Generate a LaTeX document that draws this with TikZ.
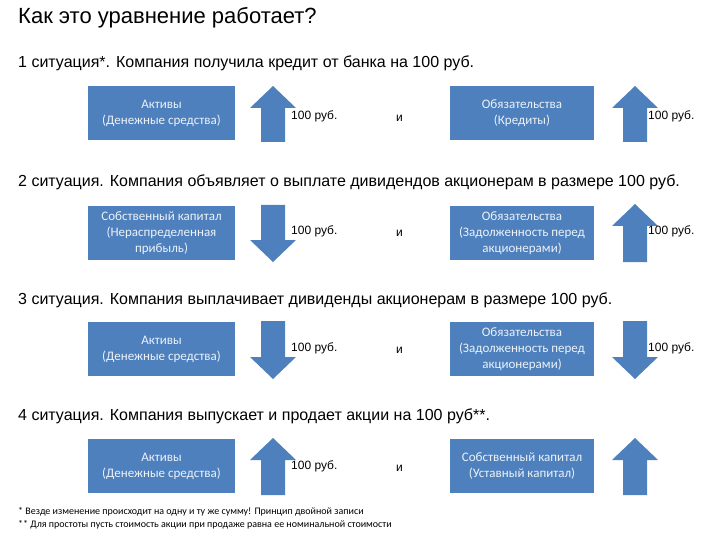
\documentclass[tikz,border=0pt]{standalone}
\usepackage{fontspec}
\setmainfont{Liberation Sans}
\newfontfamily\boxfont{Carlito}
\begin{document}
\begin{tikzpicture}[x=1pt,y=-1pt,
  bx/.style={fill=boxblue,text=white!90!boxblue,font=\boxfont\fontsize{13}{16}\selectfont,align=center,minimum height=54pt,inner sep=2pt},
  lab/.style={font=\fontsize{12}{13}\selectfont,anchor=west,inner sep=0pt},
  head/.style={font=\fontsize{16}{18}\selectfont,anchor=west,inner sep=0pt}]
\definecolor{boxblue}{HTML}{4E80BD}
\useasboundingbox (0,0) rectangle (720,540);
\newcommand\arrup[3]{\fill[boxblue] (#1-12,#3) -- (#1-12,#2+22) -- (#1-23,#2+22) -- (#1,#2) -- (#1+23,#2+22) -- (#1+12,#2+22) -- (#1+12,#3) -- cycle;}
\newcommand\arrdn[3]{\fill[boxblue] (#1-12,#2) -- (#1-12,#3-22) -- (#1-23,#3-22) -- (#1,#3) -- (#1+23,#3-22) -- (#1+12,#3-22) -- (#1+12,#2) -- cycle;}
\node[anchor=west,inner sep=0pt,font=\fontsize{22}{24}\selectfont] (title) at (18,18) {Как это уравнение работает?};
% 1
\node[head] (h1) at (18,63) {1 ситуация*. Компания получила кредит от банка на 100 руб.};
\node[bx,minimum width=147pt] (a1) at (161.5,113) {Активы\\(Денежные средства)};
\node[bx,minimum width=144pt] (b1) at (522,113) {Обязательства\\(Кредиты)};
\arrup{273}{86}{142}\arrup{635}{86}{142}
\node[lab] (l1) at (291,116) {100 руб.};
\node[lab] (i1) at (396,118) {и};
\node[lab] (r1) at (648,116) {100 руб.};
% 2
\node[head] (h2) at (18,182) {2 ситуация. Компания объявляет о выплате дивидендов акционерам в размере 100 руб.};
\node[bx,minimum width=147pt] (a2) at (161.5,233) {Собственный капитал\\(Нераспределенная\\прибыль)};
\node[bx,minimum width=144pt] (b2) at (522,233) {Обязательства\\(Задолженность перед\\акционерами)};
\arrdn{273}{205}{262}\arrup{635}{204}{262}
\node[lab] (l2) at (291,231) {100 руб.};
\node[lab] (i2) at (396,233) {и};
\node[lab] (r2) at (648,231) {100 руб.};
% 3
\node[head] (h3) at (18,300) {3 ситуация. Компания выплачивает дивиденды акционерам в размере 100 руб.};
\node[bx,minimum width=147pt] (a3) at (161.5,349) {Активы\\(Денежные средства)};
\node[bx,minimum width=144pt] (b3) at (522,349) {Обязательства\\(Задолженность перед\\акционерами)};
\arrdn{273}{321}{379}\arrdn{635}{321}{379}
\node[lab] (l3) at (291,348) {100 руб.};
\node[lab] (i3) at (396,350) {и};
\node[lab] (r3) at (648,348) {100 руб.};
% 4
\node[head] (h4) at (18,416) {4 ситуация. Компания выпускает и продает акции на 100 руб**.};
\node[bx,minimum width=147pt] (a4) at (161.5,466) {Активы\\(Денежные средства)};
\node[bx,minimum width=144pt] (b4) at (522,466) {Собственный капитал\\(Уставный капитал)};
\arrup{273}{438}{495}\arrup{635}{438}{495}
\node[lab] (l4) at (291,466) {100 руб.};
\node[lab] (i4) at (396,468) {и};
% footnotes
\node[anchor=west,inner sep=0pt,font=\boxfont\fontsize{10}{11}\selectfont] (f1) at (18,512) {* Везде изменение происходит на одну и ту же сумму! Принцип двойной записи};
\node[anchor=west,inner sep=0pt,font=\boxfont\fontsize{10}{11}\selectfont] (f2) at (18,525) {** Для простоты пусть стоимость акции при продаже равна ее номинальной стоимости};
\end{tikzpicture}
\end{document}
